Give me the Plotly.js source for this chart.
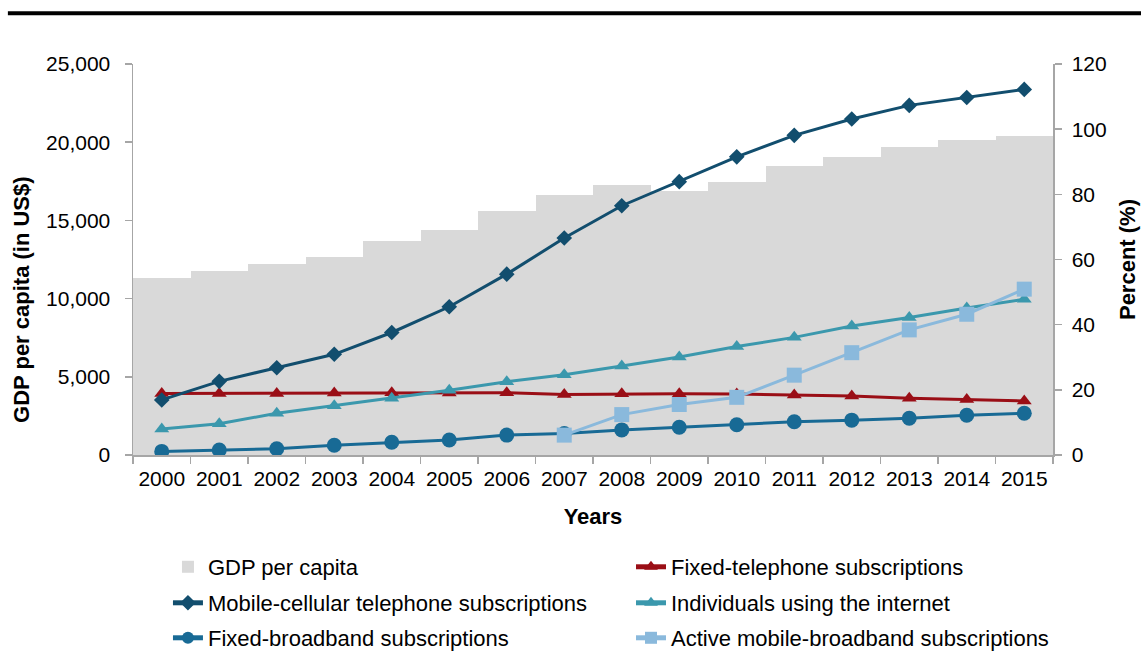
<!DOCTYPE html>
<html>
<head>
<meta charset="utf-8">
<script src="https://cdn.plot.ly/plotly-3.0.1.min.js"></script>
<style>
html,body{margin:0;padding:0;background:#fff;}
#chart{width:1141px;height:651px;}
</style>
</head>
<body>
<div id="chart"></div>
<script>
const years = ['2000','2001','2002','2003','2004','2005','2006','2007','2008','2009','2010','2011','2012','2013','2014','2015'];
const gdpPerCapita = [11340, 11770, 12200, 12650, 13700, 14410, 15580, 16600, 17260, 16900, 17480, 18480, 19060, 19710, 20150, 20400];
const mobileCellular = [16.9, 22.6, 26.8, 30.9, 37.6, 45.5, 55.5, 66.6, 76.5, 83.9, 91.5, 98.1, 103.1, 107.3, 109.7, 112.2];
const fixedTelephone = [18.9, 18.9, 18.9, 19.0, 19.1, 19.0, 19.1, 18.6, 18.8, 18.8, 18.7, 18.4, 18.1, 17.4, 17.0, 16.6];
const internetUsers = [8.0, 9.6, 12.8, 15.1, 17.4, 19.9, 22.5, 24.6, 27.3, 30.1, 33.3, 36.1, 39.6, 42.2, 45.1, 47.8];
const fixedBroadband = [1.1, 1.5, 1.9, 3.0, 3.9, 4.6, 6.1, 6.6, 7.7, 8.5, 9.3, 10.2, 10.7, 11.3, 12.2, 12.8];
const mobileBroadband = [null, null, null, null, null, null, null, 6.1, 12.4, 15.5, 17.7, 24.5, 31.4, 38.4, 43.2, 50.9];
const yLeftTicks = [0, 5000, 10000, 15000, 20000, 25000];
const yRightTicks = [0, 20, 40, 60, 80, 100, 120];

const FONT = '"Liberation Sans", Arial, sans-serif';
const FS = 21;
const LFS = 22;

function lineTrace(name, y, color, symbol, size, legend) {
  return {
    type: 'scatter', mode: 'lines+markers', name: name, x: years, y: y,
    yaxis: 'y2', legend: legend,
    line: {color: color, width: 3},
    marker: {color: color, symbol: symbol, size: size},
    connectgaps: false
  };
}

const data = [
  {type: 'bar', name: 'GDP per capita', x: years, y: gdpPerCapita, width: 1,
   marker: {color: '#d9d9d9', line: {width: 0}}, legend: 'legend'},
  lineTrace('Fixed-telephone subscriptions', fixedTelephone, '#9a0e16', 'triangle-up', 13, 'legend2'),
  lineTrace('Mobile-cellular telephone subscriptions', mobileCellular, '#124e6e', 'diamond', 12, 'legend3'),
  lineTrace('Individuals using the internet', internetUsers, '#3b98ad', 'triangle-up', 13, 'legend4'),
  lineTrace('Fixed-broadband subscriptions', fixedBroadband, '#186a95', 'circle', 15, 'legend5'),
  lineTrace('Active mobile-broadband subscriptions', mobileBroadband, '#8ab9dc', 'square', 15, 'legend6')
];

function legendAt(x, y) {
  return {
    orientation: 'v', x: x, xanchor: 'left', y: y, yanchor: 'middle',
    itemsizing: 'constant',
    font: {family: FONT, size: LFS, color: '#000'},
    bgcolor: 'rgba(0,0,0,0)', borderwidth: 0
  };
}
const colL = 0.038, colR = 0.5413;
const row1 = -0.2864, row2 = -0.3785, row3 = -0.468;

const layout = {
  width: 1141, height: 651,
  margin: {l: 133, r: 88, t: 64, b: 196, autoexpand: false},
  paper_bgcolor: '#fff', plot_bgcolor: '#fff',
  font: {family: FONT, size: FS, color: '#000'},
  bargap: 0,
  showlegend: true,
  xaxis: {
    type: 'category', range: [-0.5, 15.5],
    showline: true, linecolor: '#a6a6a6', linewidth: 1.5,
    ticks: 'outside', tickson: 'boundaries', ticklen: 7, tickcolor: '#a6a6a6', tickwidth: 1.5,
    ticklabelstandoff: 4,
    showgrid: false, zeroline: false,
    tickfont: {family: FONT, size: FS, color: '#000'},
    title: {text: '<b>Years</b>', font: {family: FONT, size: LFS, color: '#000'}, standoff: 20}
  },
  yaxis: {
    range: [0, 25000], tickvals: yLeftTicks, tickformat: ',d',
    showline: true, linecolor: '#a6a6a6', linewidth: 1.5,
    ticks: 'outside', ticklen: 7, tickcolor: '#a6a6a6', tickwidth: 1.5,
    ticklabelstandoff: 10,
    showgrid: false, zeroline: false,
    tickfont: {family: FONT, size: FS, color: '#000'}
  },
  yaxis2: {
    overlaying: 'y', side: 'right',
    range: [0, 120], tickvals: yRightTicks,
    showline: true, linecolor: '#a6a6a6', linewidth: 1.5,
    ticks: 'outside', ticklen: 7, tickcolor: '#a6a6a6', tickwidth: 1.5,
    ticklabelstandoff: 6,
    showgrid: false, zeroline: false,
    tickfont: {family: FONT, size: FS, color: '#000'},
    title: {text: '<b>Percent (%)</b>', font: {family: FONT, size: LFS, color: '#000'}, standoff: 14}
  },
  legend: legendAt(colL, row1),
  legend2: legendAt(colR, row1),
  legend3: legendAt(colL, row2),
  legend4: legendAt(colR, row2),
  legend5: legendAt(colL, row3),
  legend6: legendAt(colR, row3),
  annotations: [{
    text: '<b>GDP per capita (in US$)</b>', textangle: -90,
    xref: 'paper', yref: 'paper', x: -0.1207, y: 0.399,
    xanchor: 'center', yanchor: 'middle', showarrow: false,
    font: {family: FONT, size: LFS, color: '#000'}
  }],
  shapes: [{
    type: 'line', xref: 'paper', yref: 'paper',
    x0: -0.136, x1: 1.1, y0: 1.13, y1: 1.13,
    line: {color: '#000', width: 4}
  }]
};

Plotly.newPlot('chart', data, layout, {displayModeBar: false, staticPlot: true});
</script>
</body>
</html>
